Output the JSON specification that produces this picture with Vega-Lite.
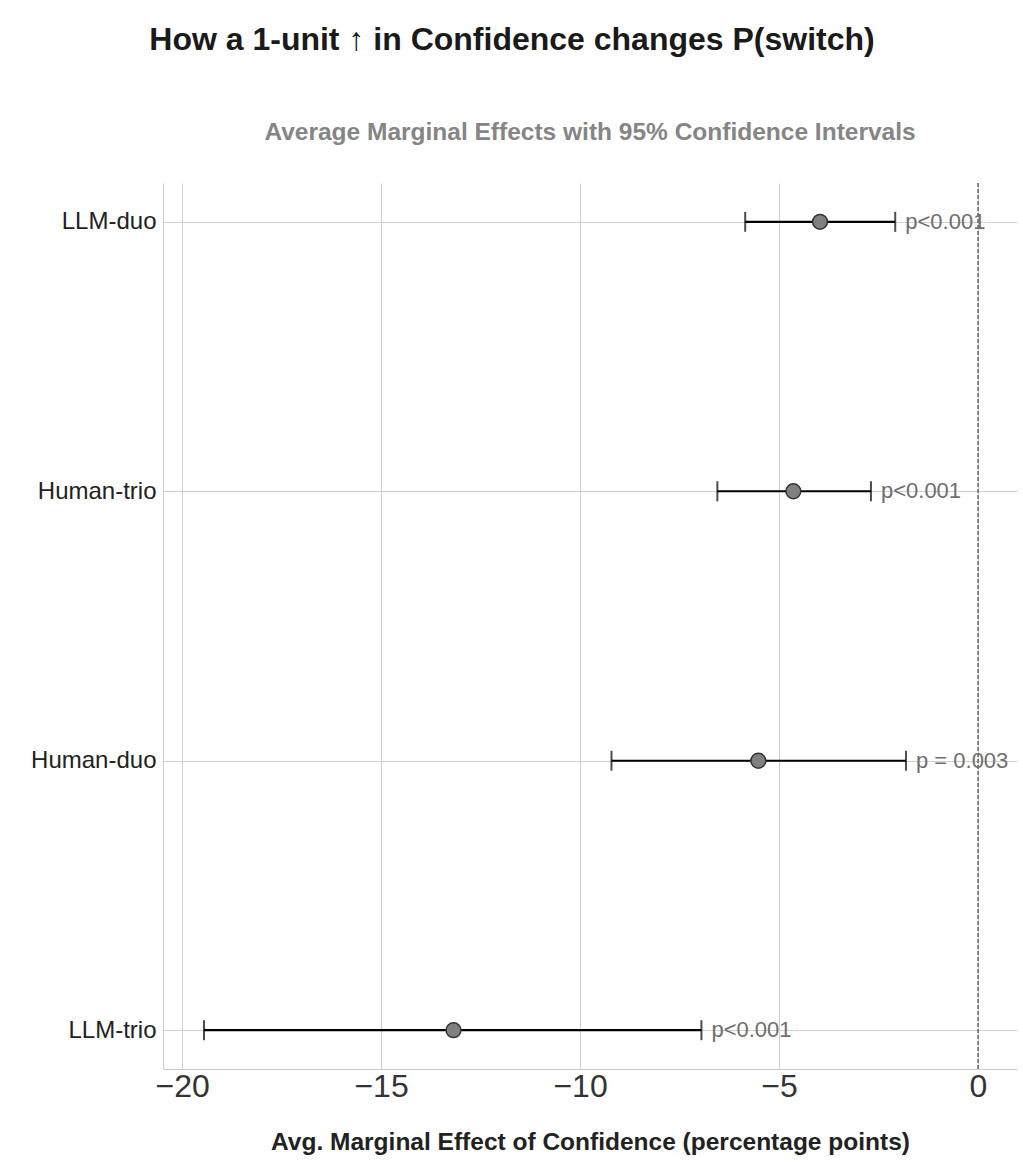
{
  "$schema": "https://vega.github.io/schema/vega-lite/v6.json",
  "padding": {"left": 13, "top": 24, "right": 5, "bottom": 5},
  "background": "white",
  "title": {"text": "How a 1-unit ↑ in Confidence changes P(switch)", "fontSize": 32, "font": "Liberation Sans", "fontWeight": "bold", "color": "#1a1a1a", "anchor": "middle", "frame": "bounds", "offset": 63, "dx": -3},
  "vconcat": [
    {
      "width": 854,
      "height": 886,
      "title": {"text": "Average Marginal Effects with 95% Confidence Intervals", "fontSize": 24.5, "font": "Liberation Sans", "fontWeight": "bold", "color": "#858585", "anchor": "middle", "frame": "group", "offset": 37},
      "data": {"values": [
        {"group": "LLM-duo", "est": -3.97, "lo": -5.85, "hi": -2.08, "plabel": "p<0.001"},
        {"group": "Human-trio", "est": -4.64, "lo": -6.55, "hi": -2.69, "plabel": "p<0.001"},
        {"group": "Human-duo", "est": -5.52, "lo": -9.21, "hi": -1.81, "plabel": "p = 0.003"},
        {"group": "LLM-trio", "est": -13.18, "lo": -19.45, "hi": -6.95, "plabel": "p<0.001"}
      ]},
      "layer": [
        {
          "data": {"values": [{"zero": 0}]},
          "mark": {"type": "rule", "color": "#222222", "strokeWidth": 1, "strokeDash": [4, 2]},
          "encoding": {"x": {"field": "zero", "type": "quantitative"}}
        },
        {
          "mark": {"type": "rule", "color": "#000000", "strokeWidth": 2.2},
          "encoding": {
            "y": {"field": "group", "type": "nominal", "sort": ["LLM-duo", "Human-trio", "Human-duo", "LLM-trio"], "scale": {"type": "point", "padding": 0.144}, "axis": {"title": null, "labelFontSize": 24, "labelColor": "#222222", "labelFont": "Liberation Sans", "ticks": false, "labelPadding": 7, "domain": true, "domainColor": "#cccccc", "grid": true, "gridColor": "#d0d0d0"
, "minExtent": 150, "maxExtent": 150}},
            "x": {"field": "lo", "type": "quantitative", "scale": {"domain": [-20.48, 0.98], "nice": false, "zero": false}, "axis": {"values": [-20, -15, -10, -5, 0], "title": "Avg. Marginal Effect of Confidence (percentage points)", "titleFontSize": 24.5, "titleFontWeight": "bold", "titleColor": "#222222", "titleFont": "Liberation Sans", "titlePadding": 28, "labelFontSize": 32, "labelColor": "#333333", "labelFont": "Liberation Sans", "ticks": false, "labelPadding": 2, "domain": true, "domainColor": "#cccccc", "grid": true, "gridColor": "#d0d0d0"}},
            "x2": {"field": "hi"}
          }
        },
        {
          "mark": {"type": "tick", "color": "#000000", "thickness": 2, "size": 20, "orient": "vertical"},
          "encoding": {
            "y": {"field": "group", "type": "nominal", "sort": ["LLM-duo", "Human-trio", "Human-duo", "LLM-trio"]},
            "x": {"field": "lo", "type": "quantitative"}
          }
        },
        {
          "mark": {"type": "tick", "color": "#000000", "thickness": 2, "size": 20, "orient": "vertical"},
          "encoding": {
            "y": {"field": "group", "type": "nominal", "sort": ["LLM-duo", "Human-trio", "Human-duo", "LLM-trio"]},
            "x": {"field": "hi", "type": "quantitative"}
          }
        },
        {
          "mark": {"type": "point", "filled": true, "fill": "#808080", "stroke": "#333333", "strokeWidth": 1.5, "size": 220, "opacity": 1},
          "encoding": {
            "y": {"field": "group", "type": "nominal", "sort": ["LLM-duo", "Human-trio", "Human-duo", "LLM-trio"]},
            "x": {"field": "est", "type": "quantitative"}
          }
        },
        {
          "mark": {"type": "text", "align": "left", "baseline": "middle", "dx": 10, "fontSize": 22, "font": "Liberation Sans", "color": "#6e6e6e"},
          "encoding": {
            "y": {"field": "group", "type": "nominal", "sort": ["LLM-duo", "Human-trio", "Human-duo", "LLM-trio"]},
            "x": {"field": "hi", "type": "quantitative"},
            "text": {"field": "plabel"}
          }
        }
      ]
    }
  ],
  "config": {
    "view": {"stroke": null},
    "font": "Liberation Sans"
  }
}
